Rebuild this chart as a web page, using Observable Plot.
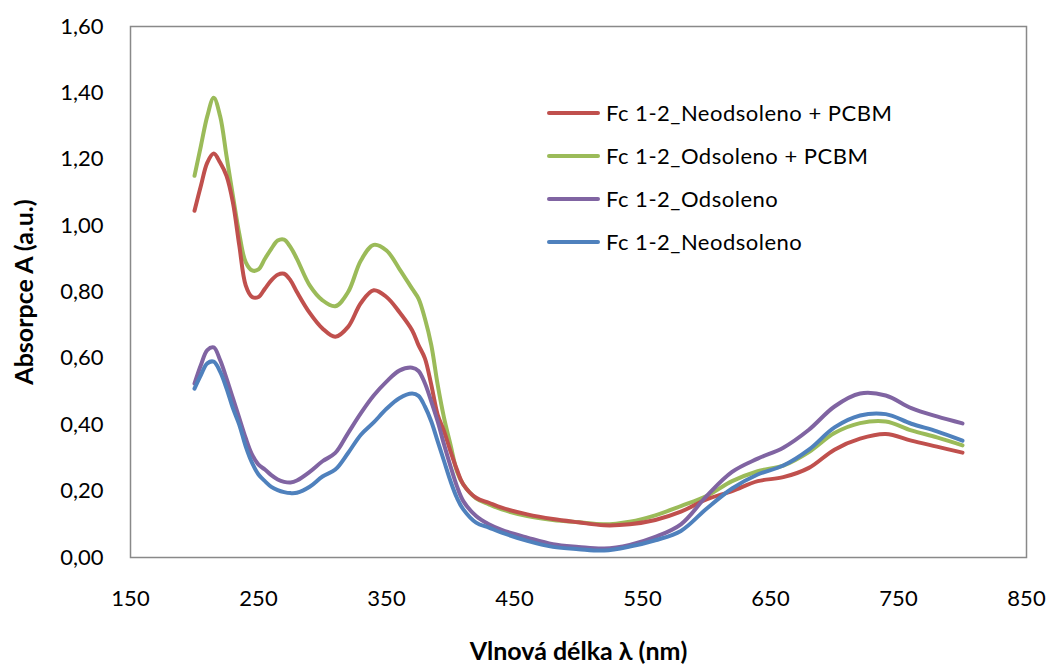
<!DOCTYPE html>
<html>
<head>
<meta charset="utf-8">
<script src="https://cdn.jsdelivr.net/npm/d3@7"></script>
<script src="https://cdn.jsdelivr.net/npm/@observablehq/plot@0.6"></script>
<style>
  body { margin: 0; background: #fff; }
  #wrap { position: relative; width: 1050px; height: 666px; font-family: Lato, "Open Sans", sans-serif; }
  #legend { position: absolute; left: 547px; top: 91px; font-size: 22px; letter-spacing: 0.5px; color: #000; }
  #legend .row { display: flex; align-items: center; height: 43px; }
  #legend .sw { width: 53px; height: 4px; border-radius: 2px; margin-right: 6px; }
  g[aria-label="y-axis label"] text, g[aria-label="x-axis label"] text { font-weight: bold; font-size: 25px; }
</style>
</head>
<body>
<div id="wrap"><div id="chart"></div><div id="legend"></div></div>
<script>
const wavelengths = [200,205,210,215,220,225,230,235,240,245,250,255,260,265,270,275,280,290,300,310,320,330,340,350,360,370,375,380,385,390,395,400,405,410,420,430,440,460,480,500,520,540,560,580,600,620,640,660,680,700,720,740,760,780,800];

const seriesNames = ["Fc 1-2_Neodsoleno + PCBM","Fc 1-2_Odsoleno + PCBM","Fc 1-2_Odsoleno","Fc 1-2_Neodsoleno"];
const seriesColors = ["#C0504D","#9BBB59","#8064A2","#4F81BD"];

const neodsolenoPCBM = [1.045,1.12,1.19,1.217,1.19,1.15,1.07,0.94,0.82,0.785,0.785,0.81,0.835,0.852,0.855,0.835,0.80,0.737,0.69,0.665,0.695,0.767,0.805,0.785,0.74,0.685,0.64,0.60,0.52,0.43,0.38,0.32,0.265,0.22,0.18,0.165,0.15,0.13,0.116,0.106,0.097,0.10,0.113,0.138,0.175,0.20,0.23,0.242,0.27,0.325,0.358,0.372,0.352,0.334,0.316];
const odsolenoPCBM = [1.15,1.24,1.33,1.385,1.33,1.21,1.09,0.975,0.89,0.865,0.868,0.90,0.93,0.955,0.958,0.935,0.90,0.82,0.775,0.757,0.80,0.895,0.942,0.925,0.87,0.81,0.78,0.72,0.64,0.52,0.42,0.34,0.26,0.22,0.178,0.16,0.145,0.125,0.113,0.106,0.10,0.108,0.127,0.155,0.185,0.23,0.26,0.277,0.318,0.375,0.405,0.41,0.383,0.362,0.338];
const odsoleno = [0.524,0.58,0.625,0.633,0.595,0.54,0.48,0.42,0.36,0.31,0.28,0.265,0.248,0.235,0.228,0.226,0.232,0.258,0.29,0.315,0.375,0.435,0.488,0.53,0.563,0.572,0.562,0.525,0.47,0.41,0.34,0.275,0.215,0.17,0.125,0.10,0.083,0.06,0.04,0.032,0.027,0.038,0.062,0.10,0.185,0.258,0.298,0.331,0.385,0.455,0.494,0.488,0.45,0.425,0.404];
const neodsoleno = [0.509,0.55,0.585,0.59,0.56,0.51,0.45,0.40,0.335,0.285,0.25,0.23,0.213,0.203,0.197,0.194,0.195,0.213,0.244,0.265,0.315,0.37,0.407,0.448,0.48,0.494,0.487,0.455,0.41,0.35,0.29,0.23,0.18,0.145,0.105,0.09,0.075,0.05,0.032,0.025,0.021,0.033,0.052,0.08,0.147,0.208,0.25,0.277,0.325,0.392,0.428,0.432,0.403,0.38,0.352];

const xTicks = [150,250,350,450,550,650,750,850];
const yTicks = [0,0.2,0.4,0.6,0.8,1.0,1.2,1.4,1.6];

const valueArrays = [neodsolenoPCBM, odsolenoPCBM, odsoleno, neodsoleno];
// draw order: green, red, purple, blue (blue on top)
const drawOrder = [1,0,2,3];
const data = [];
for (const i of drawOrder) {
  wavelengths.forEach((w, j) => data.push({series: seriesNames[i], wl: w, v: valueArrays[i][j]}));
}

const chart = Plot.plot({
  width: 1050,
  height: 666,
  marginLeft: 130,
  marginRight: 24,
  marginTop: 26,
  marginBottom: 109,
  style: {fontFamily: "Lato, 'Open Sans', sans-serif", fontSize: "22px", color: "#000", background: "#fff"},
  x: {domain: [150, 850], ticks: xTicks, tickFormat: d => String(d), tickSize: 0, tickPadding: 33,
      label: "Vlnová délka λ (nm)", labelAnchor: "center", labelOffset: 102, labelArrow: "none"},
  y: {domain: [0, 1.6], ticks: yTicks, tickFormat: d => d.toFixed(2).replace(".", ","), tickSize: 0, tickPadding: 27,
      label: "Absorpce A (a.u.)", labelAnchor: "center", labelOffset: 115, labelArrow: "none"},
  color: {domain: seriesNames, range: seriesColors},
  marks: [
    Plot.line(data, {x: "wl", y: "v", z: "series", stroke: "series", strokeWidth: 4, curve: "catmull-rom"}),
    Plot.frame({stroke: "#898989", strokeWidth: 1.5})
  ]
});
document.getElementById("chart").appendChild(chart);

const legend = document.getElementById("legend");
seriesNames.forEach((name, i) => {
  const row = document.createElement("div");
  row.className = "row";
  const sw = document.createElement("div");
  sw.className = "sw";
  sw.style.background = seriesColors[i];
  const t = document.createElement("span");
  t.textContent = name;
  row.appendChild(sw);
  row.appendChild(t);
  legend.appendChild(row);
});
</script>
</body>
</html>
